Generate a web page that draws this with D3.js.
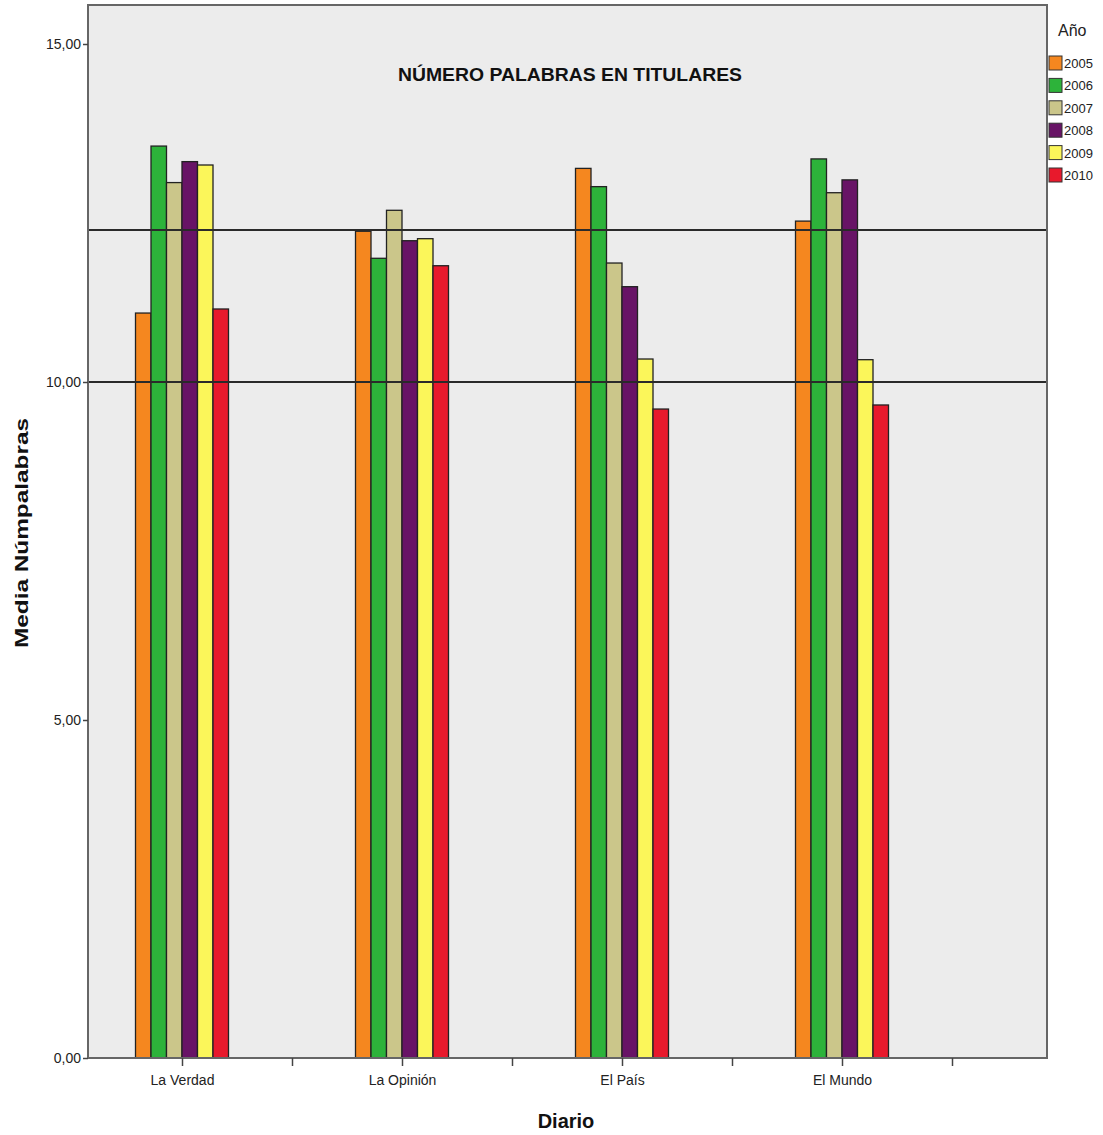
<!DOCTYPE html>
<html><head><meta charset="utf-8">
<script src="https://cdn.jsdelivr.net/npm/d3@7"></script>
<style>body{margin:0;background:#fff}svg{display:block}</style>
</head><body>
<script>
const categories = ["La Verdad", "La Opinión", "El País", "El Mundo"];
const years = ["2005", "2006", "2007", "2008", "2009", "2010"];
const values = {
  "2005": [11.02, 12.23, 13.16, 12.38],
  "2006": [13.49, 11.83, 12.89, 13.30],
  "2007": [12.95, 12.54, 11.76, 12.80],
  "2008": [13.26, 12.09, 11.41, 12.99],
  "2009": [13.21, 12.12, 10.34, 10.33],
  "2010": [11.08, 11.72, 9.60, 9.66]
};
const colors = ["#f5871f", "#2db33a", "#cbc68a", "#681466", "#fbf65a", "#e8192c"];
const refLines = [12.25, 10.0];
const yTicks = [0, 5, 10, 15];
const title = "NÚMERO PALABRAS EN TITULARES";

const W = 1103, H = 1135;
const svg = d3.select("body").append("svg").attr("width", W).attr("height", H);
const L = 88, R = 1047, T = 5, B = 1058;
const font = "'Liberation Sans Narrow','Liberation Sans',Arial,sans-serif";

const y = d3.scaleLinear().domain([0, 15]).range([B, 44]);
const x = d3.scaleLinear().domain([0, 3]).range([182, 842]);
const xb = d3.scaleBand().domain(years).range([-46.5, 46.5]);

svg.append("rect").attr("x", L).attr("y", T).attr("width", R - L).attr("height", B - T)
  .attr("fill", "#ececec");

const bars = svg.append("g");
years.forEach((yr, k) => {
  bars.selectAll(null).data(values[yr]).enter().append("rect")
    .attr("x", (d, i) => x(i) + xb(yr))
    .attr("y", d => y(d))
    .attr("width", xb.bandwidth())
    .attr("height", d => B - y(d))
    .attr("fill", colors[k])
    .attr("stroke", "#222").attr("stroke-width", 1.3);
});

svg.selectAll(null).data(refLines).enter().append("line")
  .attr("x1", L).attr("x2", R).attr("y1", d => y(d)).attr("y2", d => y(d))
  .attr("stroke", "#2a2a2a").attr("stroke-width", 2);

svg.append("rect").attr("x", L).attr("y", T).attr("width", R - L).attr("height", B - T)
  .attr("fill", "none").attr("stroke", "#666").attr("stroke-width", 2);

// y axis
const ya = svg.append("g").attr("transform", `translate(${L},0)`)
  .call(d3.axisLeft(y).tickValues(yTicks).tickSize(5).tickFormat(d => d3.format(".2f")(d).replace(".", ",")));
ya.select(".domain").remove();
ya.selectAll(".tick line").attr("stroke", "#444").attr("stroke-width", 1.5);
ya.selectAll(".tick text").attr("font-family", font).attr("font-size", 14).attr("fill", "#222").attr("x", -7);

// x axis
const xa = svg.append("g").attr("transform", `translate(0,${B})`)
  .call(d3.axisBottom(x).tickValues([0, 1, 2, 3]).tickSize(8).tickFormat(i => categories[i]));
xa.select(".domain").remove();
xa.selectAll(".tick line").attr("stroke", "#444").attr("stroke-width", 1.5);
xa.selectAll(".tick text").attr("font-family", font).attr("font-size", 14).attr("fill", "#222").attr("y", 17);
const xm = svg.append("g").attr("transform", `translate(0,${B})`)
  .call(d3.axisBottom(x).tickValues([0.5, 1.5, 2.5, 3.5]).tickSize(8).tickFormat(""));
xm.select(".domain").remove();
xm.selectAll(".tick line").attr("stroke", "#444").attr("stroke-width", 1.5);

// title
svg.append("text").attr("x", 570).attr("y", 81).attr("text-anchor", "middle")
  .attr("font-family", font).attr("font-weight", "bold").attr("font-size", 19)
  .attr("fill", "#111").attr("textLength", 344).attr("lengthAdjust", "spacingAndGlyphs").text(title);

// axis titles
svg.append("text").attr("x", 566).attr("y", 1128).attr("text-anchor", "middle")
  .attr("font-family", font).attr("font-weight", "bold").attr("font-size", 20).attr("fill", "#111").text("Diario");
svg.append("text").attr("transform", "translate(28,533) rotate(-90)").attr("text-anchor", "middle")
  .attr("font-family", "'Liberation Sans',Arial,sans-serif").attr("font-weight", "bold").attr("font-size", 18)
  .attr("fill", "#111").attr("textLength", 230).attr("lengthAdjust", "spacingAndGlyphs").text("Media Númpalabras");

// legend
svg.append("text").attr("x", 1058).attr("y", 36).attr("font-family", font).attr("font-size", 16)
  .attr("fill", "#222").text("Año");
const lg = svg.append("g");
years.forEach((yr, k) => {
  const yy = 56 + k * 22.4;
  lg.append("rect").attr("x", 1049).attr("y", yy).attr("width", 13).attr("height", 14)
    .attr("fill", colors[k]).attr("stroke", "#333").attr("stroke-width", 1);
  lg.append("text").attr("x", 1064).attr("y", yy + 12).attr("font-family", font).attr("font-size", 13)
    .attr("fill", "#222").text(yr);
});
</script>
</body></html>
